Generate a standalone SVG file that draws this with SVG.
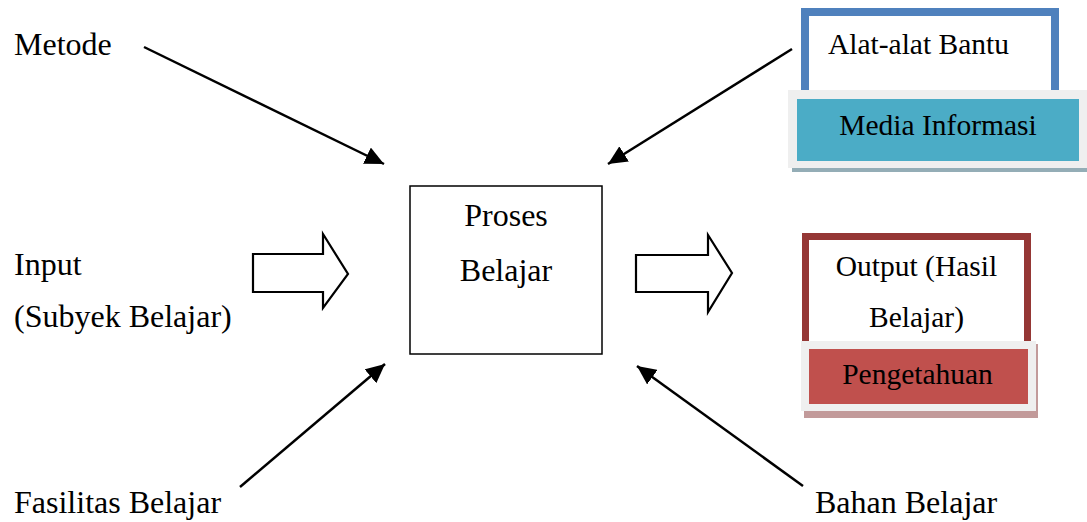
<svg xmlns="http://www.w3.org/2000/svg" width="1087" height="522" viewBox="0 0 1087 522">
<style>
text{font-family:"Liberation Serif","Times New Roman",serif;fill:#000}
.t{font-size:32px}
.s{font-size:29.5px}
.c{text-anchor:middle}
.ln{stroke:#000;stroke-width:2.5;fill:none}
.fat{fill:#fff;stroke:#000;stroke-width:2.2;stroke-linejoin:miter}
</style>
<defs>
<marker id="ah" markerUnits="userSpaceOnUse" markerWidth="20" markerHeight="18" refX="19" refY="9" orient="auto">
<path d="M0,0 L19,9 L0,18 z" fill="#000"/>
</marker>
</defs>
<rect width="1087" height="522" fill="#fff"/>

<g id="metode"><text class="t" x="14" y="55">Metode</text></g>
<g id="input"><text class="t" x="14" y="275">Input</text><text class="t" x="14" y="327">(Subyek Belajar)</text></g>
<g id="fasilitas"><text class="t" x="14" y="513">Fasilitas Belajar</text></g>
<g id="bahan"><text class="t" x="815" y="513">Bahan Belajar</text></g>

<g id="proses">
<rect x="410" y="186" width="192" height="168" fill="#fff" stroke="#000" stroke-width="1.5"/>
<text class="t c" x="506" y="226">Proses</text>
<text class="t c" x="506" y="281">Belajar</text>
</g>

<g id="alat">
<rect x="805" y="12" width="250" height="100" fill="#fff" stroke="#4f81bd" stroke-width="8"/>
<text class="s c" x="918.5" y="54">Alat-alat Bantu</text>
</g>
<g id="media">
<rect x="792" y="94" width="295" height="78" fill="#94adb6"/>
<rect x="788" y="90" width="299" height="78" fill="#efefef"/>
<rect x="797" y="99" width="282" height="62" fill="#4bacc6"/>
<text class="s c" x="938" y="135">Media Informasi</text>
</g>

<g id="output">
<rect x="805.5" y="236.5" width="222" height="120" fill="#fff" stroke="#953735" stroke-width="7"/>
<text class="s c" x="916.5" y="276">Output (Hasil</text>
<text class="s c" x="916.5" y="327">Belajar)</text>
</g>
<g id="pengetahuan">
<rect x="804" y="344" width="234" height="74" fill="#c29a9a"/>
<rect x="801" y="341" width="235" height="70" fill="#efefef"/>
<rect x="809" y="349" width="219" height="55" fill="#c0504d"/>
<text class="s c" x="917.5" y="384">Pengetahuan</text>
</g>

<g id="connectors">
<line class="ln" x1="144" y1="47" x2="384" y2="164" marker-end="url(#ah)"/>
<line class="ln" x1="792" y1="49" x2="608" y2="164" marker-end="url(#ah)"/>
<line class="ln" x1="240" y1="487" x2="385" y2="364" marker-end="url(#ah)"/>
<line class="ln" x1="803" y1="486" x2="637" y2="366" marker-end="url(#ah)"/>
<path class="fat" d="M253,254 L323,254 L323,234 L348,274 L323,308 L323,292 L253,292 Z"/>
<path class="fat" d="M636,255 L708,255 L708,235 L732,273 L708,312 L708,292 L636,292 Z"/>
</g>
</svg>
